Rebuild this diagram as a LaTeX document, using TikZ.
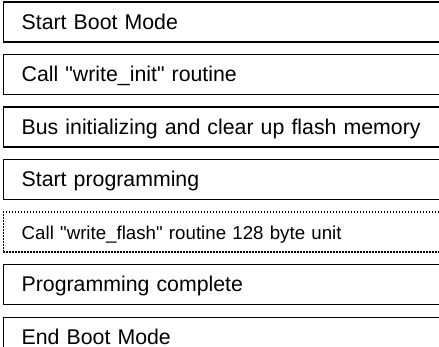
\documentclass[tikz,border=0pt]{standalone}
\usepackage{fontspec}
\setmainfont{Liberation Sans}
\usetikzlibrary{positioning}

\tikzset{
  stagebox/.style={draw, line width=1.3pt, anchor=north west, minimum height=40pt,
    text width=440pt, align=left, inner xsep=18.5pt, inner ysep=0pt,
    text height=14pt, text depth=0pt, font={\fontsize{21.3pt}{24pt}\selectfont}},
  loopbox/.style={stagebox, solid, dash pattern={on 1.5pt off 1.5pt}, line width=1.4pt,
    font={\fontsize{18.7pt}{22pt}\selectfont}}
}

\begin{document}
\begin{tikzpicture}[node distance=11.2pt]
    %% Frame of the page
    \useasboundingbox (0,0) rectangle (439pt,-347pt);
    \clip (0,0) rectangle (439pt,-347pt);

    %% Boot sequence, top to bottom
    \node[stagebox] (boot) at (2.5pt,-1.5pt) {Start Boot Mode};
    \node[stagebox, below=of boot.south west, anchor=north west] (init) {Call \textquotedbl write\_init\textquotedbl\ routine};
    \node[stagebox, below=of init.south west, anchor=north west] (erase) {Bus initializing and clear up flash memory};
    \node[stagebox, below=of erase.south west, anchor=north west] (prog) {Start programming};
    \node[loopbox, below=of prog.south west, anchor=north west] (flash) {Call \textquotedbl write\_flash\textquotedbl\ routine 128 byte unit};
    \node[stagebox, below=of flash.south west, anchor=north west] (done) {Programming complete};
    \node[stagebox, below=of done.south west, anchor=north west] (exit) {End Boot Mode};
  \end{tikzpicture}
\end{document}
